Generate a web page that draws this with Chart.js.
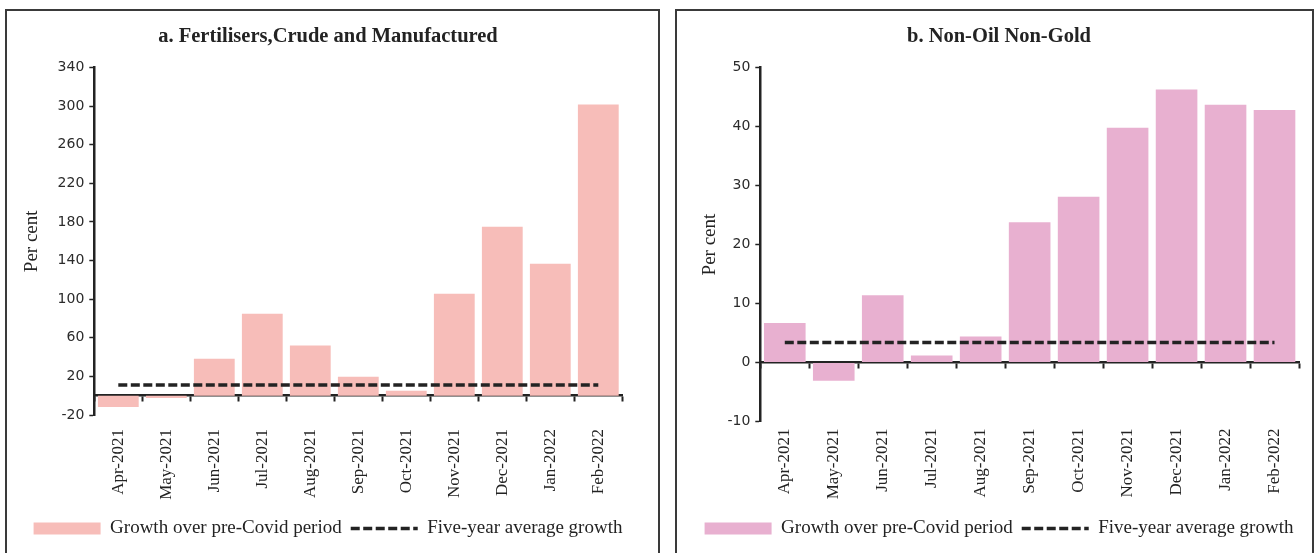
<!DOCTYPE html>
<html>
<head>
<meta charset="utf-8">
<script src="https://cdn.jsdelivr.net/npm/chart.js@4.4.1/dist/chart.umd.min.js"></script>
<style>
  html, body { margin: 0; padding: 0; background: #fff; }
  body { width: 1315px; height: 553px; position: relative; overflow: hidden; }
  .panel { position: absolute; top: 9px; height: 570px; border: 2px solid #3a3a3a; box-sizing: border-box; }
  #panelA { left: 5px; width: 655px; }
  #panelB { left: 675px; width: 639px; }
  canvas { position: absolute; top: 11px; }
  #chartA { left: 7px; }
  #chartB { left: 677px; }
</style>
</head>
<body>
<div class="panel" id="panelA"></div>
<div class="panel" id="panelB"></div>
<canvas id="chartA" width="650" height="542"></canvas>
<canvas id="chartB" width="634" height="542"></canvas>
<script>
// Months on the category axis
const months = ['Apr-2021', 'May-2021', 'Jun-2021', 'Jul-2021', 'Aug-2021', 'Sep-2021',
                'Oct-2021', 'Nov-2021', 'Dec-2021', 'Jan-2022', 'Feb-2022'];

// a. Fertilisers, crude and manufactured (per cent)
const fertGrowth = [-11.8, -2.5, 38.3, 84.9, 52.1, 19.7, 5.2, 105.6, 175.0, 136.7, 301.7];
const fertFiveYearAvg = [11, 11, 11, 11, 11, 11, 11, 11, 11, 11, 11];
const fertTicks = [-20, 20, 60, 100, 140, 180, 220, 260, 300, 340];

// b. Non-oil non-gold (per cent)
const nongGrowth = [6.7, -3.1, 11.4, 1.2, 4.4, 23.8, 28.1, 39.8, 46.3, 43.7, 42.8];
const nongFiveYearAvg = [3.4, 3.4, 3.4, 3.4, 3.4, 3.4, 3.4, 3.4, 3.4, 3.4, 3.4];
const nongTicks = [-10, 0, 10, 20, 30, 40, 50];

const SERIF = "'Liberation Serif', serif";
const SANS = "'DejaVu Sans', sans-serif";
const INK = '#232323';

function buildChart(canvasId, cfg) {
  // legend: filled box for the bars, dashed stroke for the average line
  const legendLabels = chart => {
    const items = Chart.defaults.plugins.legend.labels.generateLabels(chart);
    items.forEach(it => {
      const ds = chart.data.datasets[it.datasetIndex];
      if (ds.type === 'line') {
        it.pointStyle = 'line';
        it.lineDash = ds.borderDash;
        it.lineWidth = ds.borderWidth;
        it.strokeStyle = ds.borderColor;
      } else {
        it.pointStyle = 'rect';
        it.lineWidth = 0;
      }
    });
    return items;
  };

  return new Chart(document.getElementById(canvasId), {
    type: 'bar',
    data: {
      labels: months,
      datasets: [
        {
          type: 'bar',
          label: 'Growth over pre-Covid period',
          data: cfg.growth,
          backgroundColor: cfg.barColor,
          borderWidth: 0,
          barPercentage: 0.85,
          categoryPercentage: 1,
          order: 2
        },
        {
          type: 'line',
          label: 'Five-year average growth',
          data: cfg.average,
          borderColor: INK,
          backgroundColor: INK,
          borderWidth: 3.5,
          borderDash: [9, 3.5],
          pointRadius: 0,
          fill: false,
          order: 1
        }
      ]
    },
    options: {
      responsive: false,
      animation: false,
      devicePixelRatio: 1,
      layout: { padding: { left: cfg.padLeft, right: cfg.padRight, top: 0, bottom: 5 } },
      plugins: {
        tooltip: { enabled: false },
        title: {
          display: true,
          text: cfg.title,
          color: INK,
          font: { family: SERIF, size: 20.5, weight: 'bold' },
          padding: { top: 13, bottom: 19 }
        },
        legend: {
          position: 'bottom',
          labels: {
            usePointStyle: true,
            pointStyleWidth: 67,
            boxHeight: 12,
            padding: 9,
            color: INK,
            font: { family: SERIF, size: 19 },
            sort: (a, b) => a.datasetIndex - b.datasetIndex,
            generateLabels: legendLabels
          }
        }
      },
      scales: {
        x: {
          type: 'category',
          position: 'bottom',
          offset: true,
          grid: { display: false, drawTicks: false, offset: true },
          border: { display: false },
          ticks: {
            autoSkip: false,
            minRotation: 90,
            maxRotation: 90,
            padding: cfg.xLabelPad,
            color: INK,
            font: { family: SERIF, size: 17 }
          },
          afterFit: s => { s.height = cfg.xAxisHeight; }
        },
        xZero: {
          type: 'category',
          position: { y: 0 },
          offset: true,
          z: 1,
          grid: {
            display: true,
            offset: true,
            drawOnChartArea: false,
            drawTicks: true,
            tickLength: 5,
            tickWidth: 2,
            tickColor: INK
          },
          border: { display: true, color: INK, width: 2.5 },
          ticks: { display: false },
          afterFit: s => { s.height = 0; }
        },
        y: {
          type: 'linear',
          position: 'left',
          min: cfg.ticks[0],
          max: cfg.ticks[cfg.ticks.length - 1],
          z: 1,
          grid: {
            display: true,
            drawOnChartArea: false,
            drawTicks: true,
            tickLength: 5,
            tickWidth: 1.5,
            tickColor: INK
          },
          border: { display: true, color: INK, width: 2.5 },
          ticks: {
            padding: 5,
            color: '#2b2b2b',
            font: { family: SANS, size: 14 }
          },
          title: {
            display: true,
            text: 'Per cent',
            color: INK,
            font: { family: SERIF, size: 19 },
            padding: { top: cfg.yTitlePad, bottom: 0 }
          },
          afterBuildTicks: s => { s.ticks = cfg.ticks.map(v => ({ value: v })); },
          afterFit: s => { s.width = cfg.yAxisWidth; }
        },
        yRight: {
          type: 'linear',
          position: 'right',
          display: true,
          grid: { display: false, drawTicks: false },
          border: { display: false },
          ticks: { display: false },
          afterFit: s => { s.width = cfg.rightGap; }
        }
      }
    }
  });
}

buildChart('chartA', {
  title: 'a. Fertilisers,Crude and Manufactured',
  growth: fertGrowth,
  average: fertFiveYearAvg,
  ticks: fertTicks,
  barColor: '#f7bdb9',
  padLeft: 0,
  padRight: 8,
  yAxisWidth: 87.3,
  rightGap: 26.7,
  yTitlePad: 14,
  xLabelPad: 14,
  xAxisHeight: 95
});

buildChart('chartB', {
  title: 'b. Non-Oil Non-Gold',
  growth: nongGrowth,
  average: nongFiveYearAvg,
  ticks: nongTicks,
  barColor: '#e8b0d0',
  padLeft: 10,
  padRight: 0,
  yAxisWidth: 73.3,
  rightGap: 12,
  yTitlePad: 12,
  xLabelPad: 7,
  xAxisHeight: 88.5
});
</script>
</body>
</html>
